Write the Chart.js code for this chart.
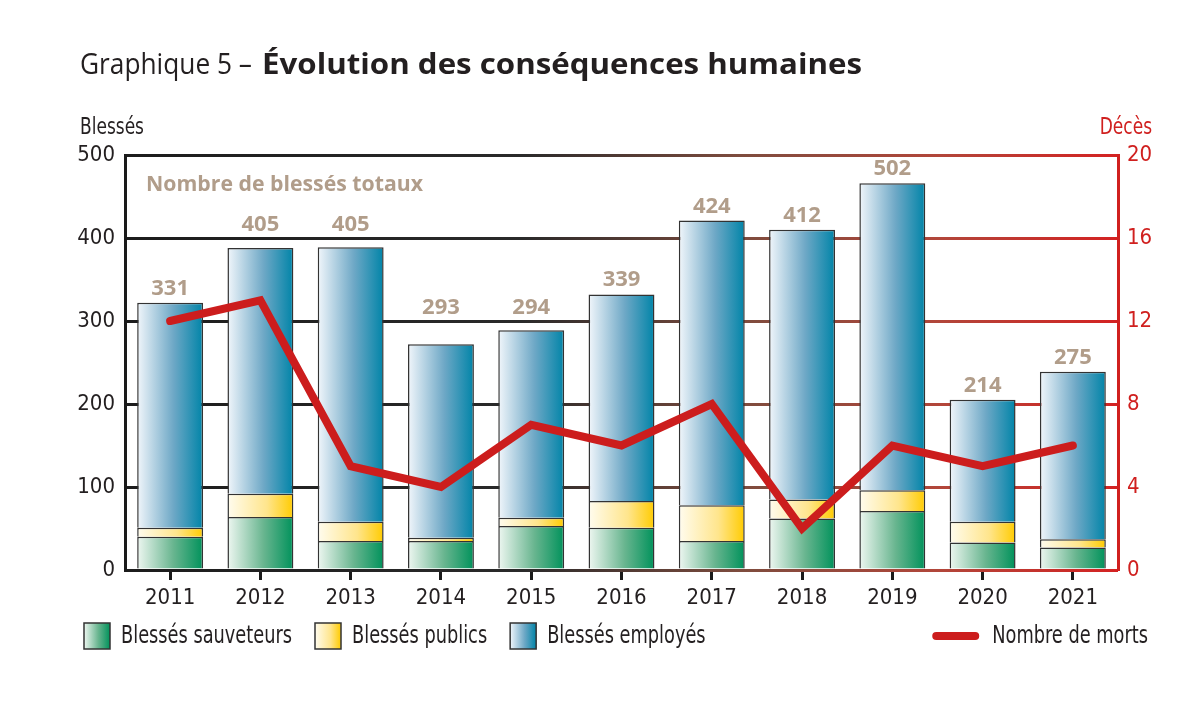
<!DOCTYPE html>
<html lang="fr">
<head>
<meta charset="utf-8">
<title>Graphique 5 – Évolution des conséquences humaines</title>
<script src="https://cdn.jsdelivr.net/npm/chart.js@4.4.1/dist/chart.umd.min.js"></script>
<style>
  html, body { margin: 0; padding: 0; background: #fff; }
  #wrap { width: 1200px; height: 717px; }
</style>
</head>
<body>
<div id="wrap"><canvas id="chart" width="1200" height="717"></canvas></div>
<script>
// values
const years = ['2011', '2012', '2013', '2014', '2015', '2016', '2017', '2018', '2019', '2020', '2021'];
const sauveteurs = [40, 64, 35, 35, 53, 51, 35, 62, 71, 33, 27];
const publics = [11, 28, 23, 4, 10, 32, 43, 23, 25, 25, 10];
const employes = [271, 296, 331, 233, 226, 249, 343, 325, 370, 147, 202];
const morts = [12, 13, 5, 4, 7, 6, 8, 2, 6, 5, 6];
// totals as printed above the bars
const totaux = [331, 405, 405, 293, 294, 339, 424, 412, 502, 214, 275];

const NARROW = '"Liberation Sans Narrow", "DejaVu Sans Condensed", "Liberation Sans", sans-serif';
const HUMAN = '"Open Sans", "Liberation Sans", sans-serif';
const INK = '#231f20';
const RED = '#d0201f';
const TAN = '#b19d8a';

const GREEN = [[0, '#eef7f1'], [0.55, '#68b58f'], [1, '#00925b']];
const YELLOW = [[0, '#fffcef'], [0.6, '#ffe58c'], [1, '#ffcb00']];
const BLUE = [[0, '#f1f6fb'], [0.55, '#6ea8c6'], [1, '#0084a8']];

function hGrad(ctx, x0, x1, stops) {
  const g = ctx.createLinearGradient(x0, 0, x1, 0);
  stops.forEach(s => g.addColorStop(s[0], s[1]));
  return g;
}

let gridCache = null;
function gridColor(c) {
  const chart = c.chart;
  const a = chart.chartArea;
  if (!a || !isFinite(a.left) || !isFinite(a.right)) return '#222';
  const key = a.left + ':' + a.right;
  if (!gridCache || gridCache.key !== key) {
    gridCache = {
      key: key,
      g: hGrad(chart.ctx, a.left, a.right, [[0, '#1c1c1c'], [0.4, '#2a2a2a'], [0.62, '#7e4c3e'], [0.82, '#b2463a'], [1, '#d42222']])
    };
  }
  return gridCache.g;
}

function barFill(stops) {
  return function (c) {
    const xs = c.chart.scales.x;
    const flat = stops[stops.length - 1][1];
    if (!xs || c.type !== 'data') return flat;
    const cx = xs.getPixelForValue(c.dataIndex);
    const w = xs.width / years.length * 0.73;
    if (!isFinite(cx) || !isFinite(w) || w <= 0) return flat;
    return hGrad(c.chart.ctx, cx - w / 2, cx + w / 2, stops);
  };
}

// draw text with a horizontal squeeze, returns drawn width
function squeezed(ctx, text, x, y, k) {
  const w = ctx.measureText(text).width;
  let x0 = x;
  if (ctx.textAlign === 'right') x0 = x - w * k;
  else if (ctx.textAlign === 'center') x0 = x - w * k / 2;
  ctx.save();
  const align = ctx.textAlign;
  ctx.textAlign = 'left';
  ctx.translate(x0, y);
  ctx.scale(k, 1);
  ctx.fillText(text, 0, 0);
  ctx.restore();
  ctx.textAlign = align;
  return w * k;
}

const decor = {
  id: 'decor',
  afterDraw(chart) {
    const ctx = chart.ctx;
    const a = chart.chartArea;
    ctx.save();
    ctx.textBaseline = 'alphabetic';
    ctx.textAlign = 'left';

    // title
    ctx.fillStyle = INK;
    ctx.font = '29px ' + HUMAN;
    squeezed(ctx, 'Graphique 5 –', 80, 74, 172 / ctx.measureText('Graphique 5 –').width);
    ctx.font = 'bold 29px ' + HUMAN;
    const t2 = 'Évolution des conséquences humaines';
    squeezed(ctx, t2, 262, 74, 600 / ctx.measureText(t2).width);

    // condensing factor for the narrow body text
    ctx.font = '24px ' + NARROW;
    const k = 171 / ctx.measureText('Blessés sauveteurs').width;

    // axis titles
    ctx.font = '23px ' + NARROW;
    ctx.fillStyle = INK;
    squeezed(ctx, 'Blessés', 80, 134, k);
    ctx.fillStyle = RED;
    ctx.textAlign = 'right';
    squeezed(ctx, 'Décès', 1152, 134, k);

    // totals
    ctx.fillStyle = TAN;
    ctx.textAlign = 'left';
    ctx.font = 'bold 22px ' + HUMAN;
    const lbl = 'Nombre de blessés totaux';
    squeezed(ctx, lbl, a.left + 21, 191, 277 / ctx.measureText(lbl).width);

    ctx.textAlign = 'center';
    const ys = chart.scales.y;
    const grid = ys.ticks.map(t => ys.getPixelForValue(t.value));
    const top = chart.getDatasetMeta(2).data;
    top.forEach((bar, i) => {
      let base = bar.y - 8;
      // keep the number clear of the grid lines
      grid.forEach(g => {
        if (g > base - 19 && g < base + 3) base = Math.min(base, g - 7);
      });
      ctx.fillText(String(totaux[i]), bar.x, base);
    });

    // legend
    ctx.textAlign = 'left';
    ctx.font = '24px ' + NARROW;
    const fills = [GREEN, YELLOW, BLUE];
    let x = 84;
    const by = 623, bs = 26;
    for (let i = 0; i < 3; i++) {
      ctx.fillStyle = hGrad(ctx, x, x + bs, fills[i]);
      ctx.fillRect(x, by, bs, bs);
      ctx.strokeStyle = '#333';
      ctx.lineWidth = 1.5;
      ctx.strokeRect(x, by, bs, bs);
      ctx.fillStyle = INK;
      const label = chart.data.datasets[i].label;
      const w = squeezed(ctx, label, x + bs + 11, 643, k);
      x += bs + 11 + w + 23;
    }
    const lineLabel = chart.data.datasets[3].label;
    ctx.textAlign = 'right';
    const tw = squeezed(ctx, lineLabel, 1148, 643, k);
    const tx = 1148 - tw;
    ctx.strokeStyle = '#cc1d1d';
    ctx.lineWidth = 8;
    ctx.lineCap = 'round';
    ctx.beginPath();
    ctx.moveTo(tx - 56, 636);
    ctx.lineTo(tx - 17, 636);
    ctx.stroke();

    ctx.restore();
  }
};

const tickFont = { family: NARROW, size: 22 };

new Chart(document.getElementById('chart'), {
  type: 'bar',
  data: {
    labels: years,
    datasets: [
      { label: 'Blessés sauveteurs', data: sauveteurs, backgroundColor: barFill(GREEN), stack: 'b', yAxisID: 'y', order: 1 },
      { label: 'Blessés publics', data: publics, backgroundColor: barFill(YELLOW), stack: 'b', yAxisID: 'y', order: 1 },
      { label: 'Blessés employés', data: employes, backgroundColor: barFill(BLUE), stack: 'b', yAxisID: 'y', order: 1 },
      {
        type: 'line', label: 'Nombre de morts', data: morts, yAxisID: 'y1', order: 0,
        borderColor: '#cc1d1d', borderWidth: 8, pointRadius: 0, tension: 0,
        borderCapStyle: 'round', borderJoinStyle: 'miter', fill: false
      }
    ]
  },
  options: {
    responsive: false,
    animation: false,
    layout: { padding: { top: 155, left: 0, right: 0, bottom: 0 } },
    plugins: { legend: { display: false }, title: { display: false }, tooltip: { enabled: false } },
    datasets: { bar: { barPercentage: 0.73, categoryPercentage: 1, borderWidth: 1.5, borderColor: '#333' } },
    scales: {
      x: {
        stacked: true,
        offset: true,
        grid: { offset: false, drawOnChartArea: false, drawTicks: true, tickLength: 10, lineWidth: 3, color: '#1a1a1a' },
        border: { display: false },
        ticks: { font: tickFont, color: INK, padding: 5, maxRotation: 0 },
        afterFit: s => { s.height = 147; }
      },
      y: {
        stacked: true,
        min: 0,
        max: 500,
        ticks: { stepSize: 100, padding: 10, font: tickFont, color: INK },
        grid: { color: gridColor, lineWidth: 3, drawTicks: false },
        border: { display: true, color: '#1a1a1a', width: 3 },
        afterFit: s => { s.width = 125; }
      },
      y1: {
        position: 'right',
        min: 0,
        max: 20,
        ticks: { stepSize: 4, padding: 9, font: tickFont, color: RED },
        grid: { drawOnChartArea: false, drawTicks: false },
        border: { display: true, color: RED, width: 3 },
        afterFit: s => { s.width = 82; }
      }
    }
  },
  plugins: [decor]
});
</script>
</body>
</html>
